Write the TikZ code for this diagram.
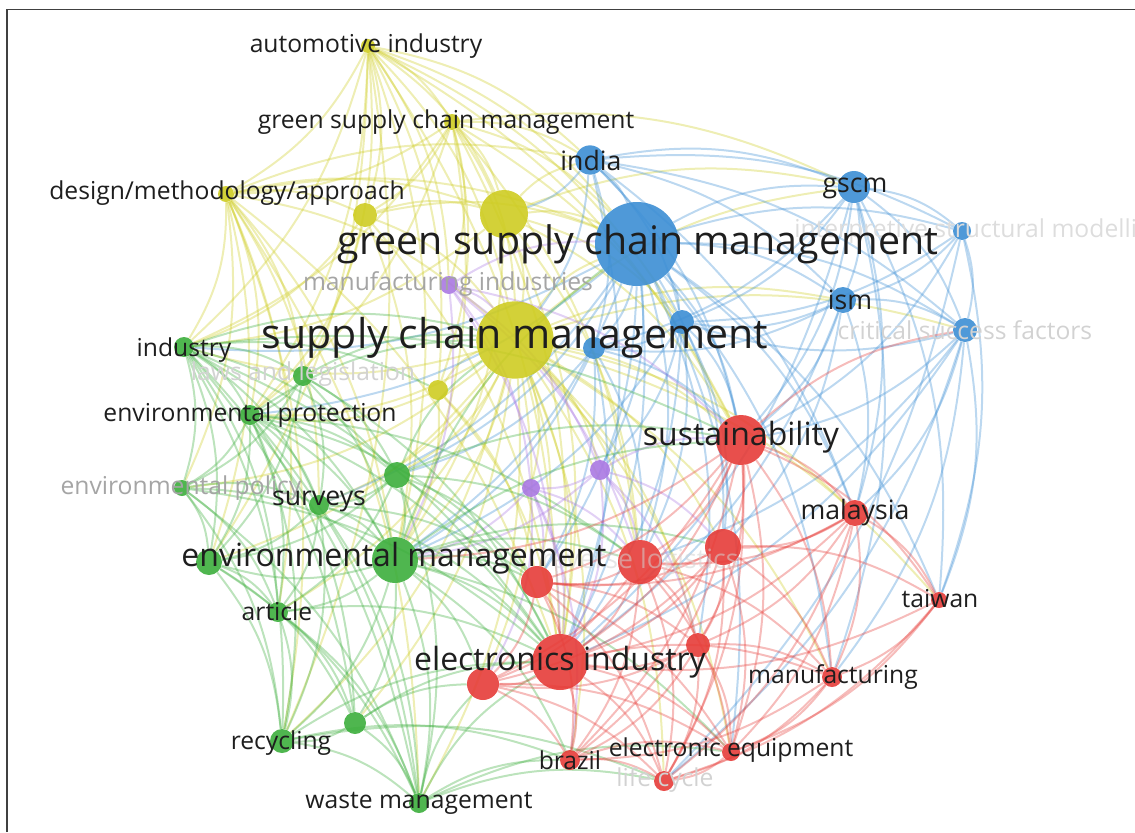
\documentclass[tikz,border=0pt]{standalone}
\usepackage{fontspec}
\setmainfont{Open Sans}
\usetikzlibrary{backgrounds}

\definecolor{vosred}{RGB}{230,60,56}
\definecolor{vosgreen}{RGB}{60,174,60}
\definecolor{vosblue}{RGB}{60,142,212}
\definecolor{vosyellow}{RGB}{206,204,34}
\definecolor{vospurple}{RGB}{170,120,226}
\definecolor{inktext}{RGB}{30,30,30}
\definecolor{faint}{RGB}{165,165,165}
\definecolor{fainter}{RGB}{210,210,210}

\tikzset{
    bubble/.style={circle, inner sep=0pt, minimum size=0.75pt*#1, fill opacity=.9},
    link/.style={line width=1.5pt, draw opacity=.34, bend left=16},
    huge/.style={font=\fontsize{30}{30}\selectfont},
    large/.style={font=\fontsize{24}{24}\selectfont},
    mid/.style={font=\fontsize{20}{20}\selectfont},
    small/.style={font=\fontsize{18.5}{18.5}\selectfont},
}

\begin{document}
\begin{tikzpicture}[x=0.75pt, y=-0.75pt]
    \useasboundingbox (0,0) rectangle (1135,832);
    \clip (0,0) rectangle (1135,832);

    \begin{scope}[every node/.style={bubble, fill=vosyellow}]
        \node (auto) [minimum size=10.5pt] at (368, 46) {} ;
        \node (gscmy) [minimum size=12pt] at (452, 122) {} ;
        \node (dma) [minimum size=12pt] at (226, 194) {} ;
        \node (y1) [minimum size=18pt] at (365, 215) {} ;
        \node (y2) [minimum size=36pt] at (504, 214) {} ;
        \node (scm) [minimum size=58pt] at (515, 340) {} ;
        \node (y3) [minimum size=15pt] at (438, 390) {} ;
    \end{scope}
    \begin{scope}[every node/.style={bubble, fill=vosblue}]
        \node (india) [minimum size=22pt] at (590, 160) {} ;
        \node (gscmb) [minimum size=63pt] at (637, 244) {} ;
        \node (gscm) [minimum size=24pt] at (854, 187) {} ;
        \node (isms) [minimum size=13.5pt] at (962, 231) {} ;
        \node (ism) [minimum size=19.5pt] at (843, 300) {} ;
        \node (csf) [minimum size=18pt] at (965, 330) {} ;
        \node (b1) [minimum size=18pt] at (682, 322) {} ;
        \node (b2) [minimum size=16.5pt] at (594, 348) {} ;
    \end{scope}
    \begin{scope}[every node/.style={bubble, fill=vospurple}]
        \node (mi) [minimum size=13.5pt] at (449, 285) {} ;
        \node (p1) [minimum size=15pt] at (600, 470) {} ;
        \node (p2) [minimum size=13.5pt] at (531, 488) {} ;
    \end{scope}
    \begin{scope}[every node/.style={bubble, fill=vosgreen}]
        \node (ind) [minimum size=15pt] at (184, 347) {} ;
        \node (laws) [minimum size=15pt] at (303, 376) {} ;
        \node (envp) [minimum size=15pt] at (250, 415) {} ;
        \node (g1) [minimum size=19.5pt] at (397, 475) {} ;
        \node (envpol) [minimum size=12pt] at (182, 488) {} ;
        \node (surv) [minimum size=15pt] at (319, 505) {} ;
        \node (envm) [minimum size=34.5pt] at (395, 560) {} ;
        \node (g2) [minimum size=19.5pt] at (209, 562) {} ;
        \node (art) [minimum size=15pt] at (278, 612) {} ;
        \node (g3) [minimum size=16.5pt] at (355, 723) {} ;
        \node (recy) [minimum size=18pt] at (282, 741) {} ;
        \node (waste) [minimum size=15pt] at (419, 803) {} ;
    \end{scope}
    \begin{scope}[every node/.style={bubble, fill=vosred}]
        \node (sust) [minimum size=37.5pt] at (741, 440) {} ;
        \node (mal) [minimum size=19.5pt] at (855, 513) {} ;
        \node (r1) [minimum size=27pt] at (723, 547) {} ;
        \node (relog) [minimum size=33pt] at (640, 562) {} ;
        \node (r2) [minimum size=24pt] at (537, 582) {} ;
        \node (taiwan) [minimum size=12pt] at (939, 600) {} ;
        \node (r3) [minimum size=18pt] at (698, 645) {} ;
        \node (ei) [minimum size=42pt] at (560, 662) {} ;
        \node (r4) [minimum size=24pt] at (483, 684) {} ;
        \node (manu) [minimum size=15pt] at (832, 677) {} ;
        \node (brazil) [minimum size=15pt] at (570, 760) {} ;
        \node (eeq) [minimum size=13.5pt] at (731, 752) {} ;
        \node (life) [minimum size=15pt] at (664, 781) {} ;
    \end{scope}

    \begin{pgfonlayer}{background}
        \clip (0,0) rectangle (1135,832);
        \begin{scope}[every edge/.style={link, draw=vosyellow}]
            \foreach \a/\b in {auto/gscmy, auto/y1, auto/y2, auto/scm, auto/dma, auto/india, auto/gscmb, auto/ind,
                auto/envp, auto/y3, auto/mi, auto/laws, auto/envm, auto/sust, auto/b1, auto/ei, auto/g2, auto/recy,
                gscmy/y2, gscmy/scm, gscmy/dma, gscmy/india, gscmy/gscmb, gscmy/y1, gscmy/ind, gscmy/gscm,
                gscmy/envp, gscmy/y3, gscmy/relog, gscmy/sust, gscmy/mi, gscmy/ei, gscmy/envm,
                dma/y1, dma/y2, dma/scm, dma/ind, dma/envp, dma/laws, dma/envpol, dma/envm, dma/gscmb, dma/g2,
                dma/surv, dma/india, dma/ei, dma/recy, dma/waste, dma/art,
                y1/y2, y1/scm, y1/ind, y1/envp, y1/envm, y1/gscmb, y1/ei,
                y2/scm, y2/gscmb, y2/india, y2/envm, y2/ei, y2/sust, y2/ind, y2/b1, y2/gscm, y2/relog,
                scm/gscmb, scm/ei, scm/envm, scm/sust, scm/relog, scm/r1, scm/r2, scm/ind, scm/envp, scm/surv,
                scm/g1, scm/art, scm/recy, scm/waste, scm/mal, scm/ism, scm/gscm, scm/p1, scm/p2, scm/brazil,
                scm/manu, scm/taiwan, scm/r3, scm/r4, scm/g2, scm/envpol, scm/csf, scm/eeq, scm/life, scm/g3,
                y3/scm, y3/envm, y3/ei, y3/envp, y3/r2}
                \path (\a) edge (\b);
        \end{scope}
        \begin{scope}[every edge/.style={link, draw=vosblue}]
            \foreach \a/\b in {india/gscmb, india/gscm, india/ism, india/b1, india/scm, india/csf, india/isms,
                india/sust, india/y2, india/b2, india/mal, india/ei,
                gscmb/gscm, gscmb/ism, gscmb/csf, gscmb/isms, gscmb/b1, gscmb/b2, gscmb/sust, gscmb/mal,
                gscmb/ei, gscmb/relog, gscmb/envm, gscmb/r1, gscmb/p1, gscmb/taiwan, gscmb/manu, gscmb/ind,
                gscmb/envp, gscmb/surv, gscmb/r2, gscmb/g1, gscmb/r3, gscmb/eeq,
                gscm/isms, gscm/ism, gscm/csf, gscm/b1, gscm/sust, gscm/mal, gscm/b2, gscm/taiwan, gscm/ei,
                gscm/manu,
                isms/ism, isms/csf, isms/taiwan, isms/b1, isms/sust, isms/life,
                ism/csf, ism/b1, ism/b2, ism/sust, ism/mal, ism/ei, ism/r1,
                csf/sust, csf/mal, csf/taiwan, csf/manu, csf/b1, csf/life, csf/relog, csf/ei,
                b1/b2, b1/sust, b1/relog, b1/p1, b1/ei, b1/envm, b1/r1,
                b2/ei, b2/relog, b2/envm, b2/r2, b2/sust, b2/g1}
                \path (\a) edge (\b);
        \end{scope}
        \begin{scope}[every edge/.style={link, draw=vospurple}]
            \foreach \a/\b in {mi/scm, mi/p1, mi/p2, mi/gscmb, mi/envm, mi/ei, mi/sust, mi/relog,
                p1/p2, p1/relog, p1/ei, p1/sust, p1/r1, p1/envm, p1/r3,
                p2/ei, p2/r2, p2/envm, p2/relog, p2/r4, p2/brazil}
                \path (\a) edge (\b);
        \end{scope}
        \begin{scope}[every edge/.style={link, draw=vosgreen}]
            \foreach \a/\b in {ind/laws, ind/envp, ind/envpol, ind/g2, ind/surv, ind/envm, ind/art, ind/recy,
                ind/g1, ind/g3, ind/waste, ind/scm, ind/y3, ind/ei, ind/sust,
                laws/envp, laws/g1, laws/envm, laws/surv, laws/g2, laws/envpol, laws/scm, laws/ei,
                envp/envpol, envp/g1, envp/surv, envp/envm, envp/g2, envp/art, envp/recy, envp/g3, envp/waste,
                envp/r2, envp/ei, envp/scm, envp/relog,
                g1/envm, g1/surv, g1/ei, g1/relog, g1/r2, g1/sust, g1/waste, g1/scm, g1/g2, g1/art,
                envpol/g2, envpol/surv, envpol/envm, envpol/art, envpol/recy, envpol/waste, envpol/ei,
                surv/envm, surv/g2, surv/art, surv/ei, surv/recy, surv/r2, surv/waste,
                envm/g2, envm/art, envm/recy, envm/g3, envm/waste, envm/ei, envm/r2, envm/r4, envm/relog,
                envm/brazil, envm/r1, envm/sust, envm/gscmb, envm/eeq,
                g2/art, g2/recy, g2/waste, g2/g3, art/recy, art/g3, art/waste, art/ei,
                g3/recy, g3/waste, g3/ei, g3/r4, recy/waste, recy/ei, recy/brazil, recy/life,
                waste/ei, waste/brazil, waste/r4, waste/life, waste/eeq}
                \path (\a) edge (\b);
        \end{scope}
        \begin{scope}[every edge/.style={link, draw=vosred}]
            \foreach \a/\b in {sust/mal, sust/r1, sust/relog, sust/ei, sust/r2, sust/r3, sust/taiwan, sust/manu,
                sust/eeq, sust/brazil, sust/r4, sust/life, sust/envm, sust/csf,
                mal/r1, mal/relog, mal/ei, mal/taiwan, mal/manu, mal/r3, mal/eeq, mal/life, mal/r2,
                r1/relog, r1/ei, r1/r3, r1/manu, r1/eeq, r1/r2, r1/brazil, r1/life, r1/taiwan, r1/r4,
                relog/r2, relog/ei, relog/r3, relog/r4, relog/brazil, relog/eeq, relog/life, relog/manu,
                r2/ei, r2/r4, r2/brazil, r2/r3, r2/life, r2/eeq, taiwan/manu, taiwan/eeq, taiwan/ei, taiwan/life,
                r3/ei, r3/manu, r3/eeq, r3/brazil, r3/life, r3/r4, ei/r4, ei/brazil, ei/eeq, ei/life, ei/manu,
                r4/brazil, r4/life, r4/eeq, manu/eeq, manu/life, manu/brazil, brazil/eeq, brazil/life, eeq/life}
                \path (\a) edge (\b);
        \end{scope}
    \end{pgfonlayer}

    % hidden labels first, the readable ones on top
    \begin{scope}[every node/.style={inner sep=0pt, text=faint}]
        \node (misL) [small] at (448, 284) {manufacturing industries} ;
        \node (lawsL) [small, text=fainter] at (303, 374) {laws and legislation} ;
        \node (envpolL) [small] at (181, 488) {environmental policy} ;
        \node (relogL) [mid, text=fainter, text opacity=.55] at (640, 562) {reverse logistics} ;
        \node (lifeL) [small, text=fainter] at (665, 780) {life cycle} ;
        \node (csfL) [small, text=fainter] at (965, 330) {critical success factors} ;
        \node (ismsL) [small, text=fainter!75] at (980, 231) {interpretive structural modelling} ;
    \end{scope}
    \begin{scope}[every node/.style={inner sep=0pt, text=inktext}]
        \node (autoL) [small] at (366, 46) {automotive industry} ;
        \node (gscmyL) [small] at (446, 122) {green supply chain management} ;
        \node (dmaL) [small] at (227, 193) {design/methodology/approach} ;
        \node (indiaL) [mid] at (591, 160) {india} ;
        \node (gscmL) [mid] at (855, 188) {gscm} ;
        \node (ismL) [mid] at (850, 300) {ism} ;
        \node (gscmbL) [huge, font=\fontsize{29.5}{29.5}\selectfont] at (638, 244) {green supply chain management} ;
        \node (scmL) [huge, font=\fontsize{30.8}{30.8}\selectfont] at (515, 338) {supply chain management} ;
        \node (indL) [small] at (184, 350) {industry} ;
        \node (envpL) [small] at (250, 415) {environmental protection} ;
        \node (sustL) [large] at (741, 437) {sustainability} ;
        \node (survL) [mid] at (319, 501) {surveys} ;
        \node (malL) [mid] at (855, 513) {malaysia} ;
        \node (envmL) [large] at (394, 558) {environmental management} ;
        \node (artL) [small] at (277, 611) {article} ;
        \node (taiwanL) [small] at (940, 599) {taiwan} ;
        \node (eiL) [large] at (560, 662) {electronics industry} ;
        \node (manuL) [small] at (833, 677) {manufacturing} ;
        \node (recyL) [small] at (281, 743) {recycling} ;
        \node (brazilL) [small] at (570, 760) {brazil} ;
        \node (eeqL) [small] at (731, 750) {electronic equipment} ;
        \node (wasteL) [small] at (419, 803) {waste management} ;
    \end{scope}

    \draw[line width=1.4pt, black!75] (7, 832) -- (7, 9.5) -- (1135, 9.5);
\end{tikzpicture}
\end{document}
